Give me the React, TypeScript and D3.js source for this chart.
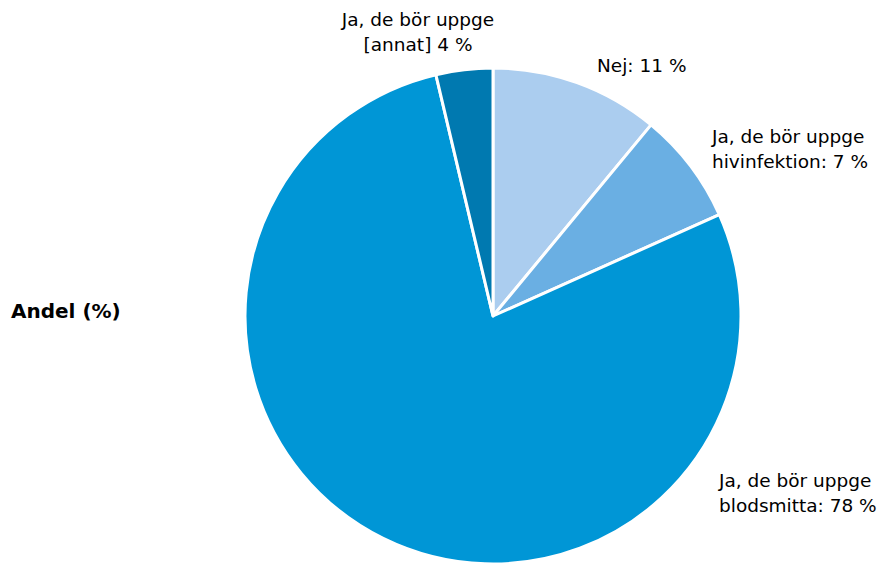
import React from "react";
import * as d3 from "d3";

const categories = ["Nej", "Ja, de bör uppge hivinfektion", "Ja, de bör uppge blodsmitta", "Ja, de bör uppge [annat]"];
const values = [11, 7.3, 78, 3.7];
const colors = ["#abcdef", "#6aafe3", "#0096d6", "#0079b0"];
const labelLines = [
  ["Nej: 11 %"],
  ["Ja, de bör uppge", "hivinfektion: 7 %"],
  ["Ja, de bör uppge", "blodsmitta: 78 %"],
  ["Ja, de bör uppge", "[annat] 4 %"],
];
const seriesName = "Andel (%)";

const W = 885, H = 563;
const cx = 493, cy = 316, R = 248;
// label anchor offsets relative to pie center (layout)
const labelPos: [number, number, string][] = [
  [104, -244, "start"],
  [219, -173, "start"],
  [226, 171, "start"],
  [-75, -290, "middle"],
];

export default function App() {
  const pie = d3.pie<number>().value((d) => d).sort(null);
  const arcs = pie(values);
  const arc = d3.arc<d3.PieArcDatum<number>>().innerRadius(0).outerRadius(R);
  return (
    <svg width={W} height={H} style={{ position: "absolute", left: 0, top: 0, fontFamily: "DejaVu Sans, sans-serif" }}>
      <rect width={W} height={H} fill="#fff" />
      <g transform={`translate(${cx},${cy})`}>
        {arcs.map((a, i) => (
          <path key={categories[i]} d={arc(a) || ""} fill={colors[i]} stroke="#fff" strokeWidth={3} strokeLinejoin="round" />
        ))}
        {labelLines.map((lines, i) => (
          <text key={i} x={labelPos[i][0]} y={labelPos[i][1]} textAnchor={labelPos[i][2] as any} fontSize={18.5} fill="#000">
            {lines.map((l, j) => (
              <tspan key={j} x={labelPos[i][0]} dy={j === 0 ? 0 : 24.5}>{l}</tspan>
            ))}
          </text>
        ))}
      </g>
      <text x={11} y={318} fontSize={20} fontWeight="bold" fill="#000">{seriesName}</text>
    </svg>
  );
}
